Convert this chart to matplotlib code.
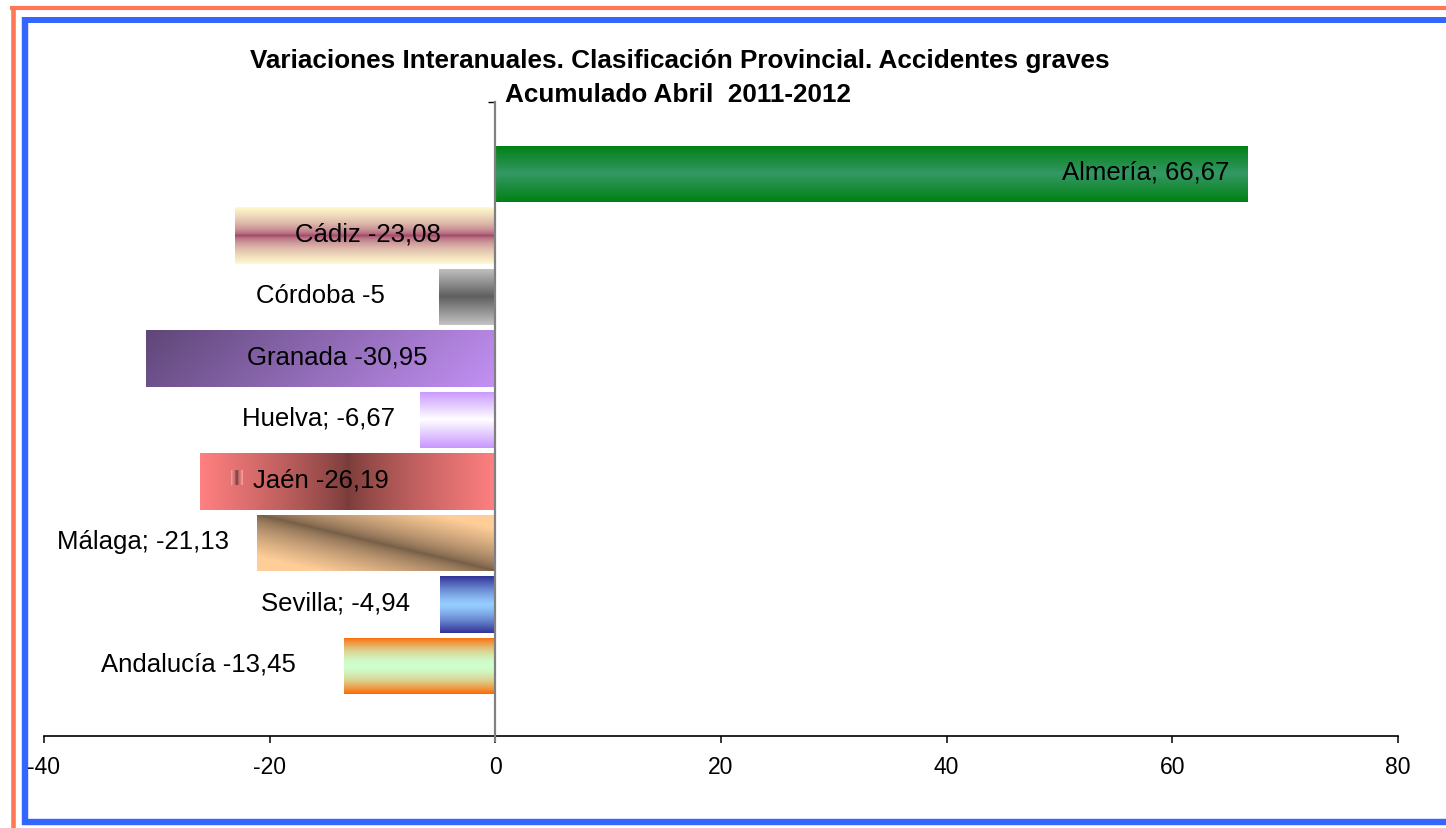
import numpy as np
import matplotlib
matplotlib.use("Agg")
import matplotlib.pyplot as plt
from matplotlib.lines import Line2D

plt.rcParams['font.family'] = ['Liberation Sans', 'DejaVu Sans']
plt.rcParams['axes.unicode_minus'] = False

# ---------------- data ----------------
provincias = ['Almería', 'Cádiz', 'Córdoba', 'Granada', 'Huelva',
              'Jaén', 'Málaga', 'Sevilla', 'Andalucía']
valores = [66.67, -23.08, -5, -30.95, -6.67, -26.19, -21.13, -4.94, -13.45]
etiquetas = ['Almería; 66,67', 'Cádiz -23,08', 'Córdoba -5', 'Granada -30,95',
             'Huelva; -6,67', 'Jaén -26,19', 'Málaga; -21,13', 'Sevilla; -4,94',
             'Andalucía -13,45']
xticks = [-40, -20, 0, 20, 40, 60, 80]
titulo1 = 'Variaciones Interanuales. Clasificación Provincial. Accidentes graves'
titulo2 = 'Acumulado Abril  2011-2012'

# ---------------- layout / style ----------------
label_x = [57.6, -11.3, -15.5, -14.0, -15.7, -15.5, -31.2, -14.2, -26.3]

W, H = 1446, 829
fig = plt.figure(figsize=(W / 100, H / 100), dpi=100)

def fx(px):
    return px / W

def fy(py):
    return 1 - py / H

ax_left, ax_right, ax_top, ax_bot = 44, 1398, 103, 737
ax = fig.add_axes([fx(ax_left), fy(ax_bot), fx(ax_right - ax_left), (ax_bot - ax_top) / H])

ypos = np.arange(len(provincias))
ylim_top, ylim_bot = -1.171, 9.138
bars = ax.barh(ypos, valores, height=0.92, facecolor='none', edgecolor='none')


def c(rgb):
    return np.array(rgb, dtype=float) / 255.0


def vgrad(edge, center, p=1.0, n=256):
    t = np.abs(np.linspace(-1, 1, n)) ** p
    col = c(center)[None, :] + (c(edge) - c(center))[None, :] * t[:, None]
    return col[:, None, :]


def hgrad(edge, center, p=1.0, n=256):
    t = np.abs(np.linspace(-1, 1, n)) ** p
    col = c(center)[None, :] + (c(edge) - c(center))[None, :] * t[:, None]
    return col[None, :, :]


def granada_grad(n=256):
    u = np.linspace(0, 1, n)[None, :]
    v = np.linspace(0, 1, 64)[:, None]
    t = np.clip(0.85 * u + 0.15 * v, 0, 1)
    dark, light = c((95, 70, 120)), c((195, 145, 245))
    return dark[None, None, :] + (light - dark)[None, None, :] * t[:, :, None]


def malaga_grad(n=256):
    u = np.linspace(0, 1, n)[None, :]
    v = np.linspace(0, 1, 64)[:, None]
    d = np.clip(np.abs(v - u) / 0.75, 0, 1) ** 0.7
    dark, light = c((115, 92, 70)), c((255, 205, 152))
    return dark[None, None, :] + (light - dark)[None, None, :] * d[:, :, None]


grads = [
    vgrad((0, 128, 20), (52, 152, 100), 1.0),        # Almería
    vgrad((255, 250, 205), (155, 55, 100), 0.5),     # Cádiz
    vgrad((195, 195, 195), (95, 95, 95), 1.0),       # Córdoba
    granada_grad(),                                  # Granada
    vgrad((200, 150, 255), (255, 255, 255), 1.0),    # Huelva
    hgrad((255, 128, 128), (120, 60, 58), 0.8),      # Jaén
    malaga_grad(),                                   # Málaga
    vgrad((50, 50, 150), (150, 205, 255), 1.3),      # Sevilla
    vgrad((255, 102, 0), (205, 255, 205), 1.8),      # Andalucía
]

for bar, g in zip(bars, grads):
    x0 = min(bar.get_x(), bar.get_x() + bar.get_width())
    x1 = max(bar.get_x(), bar.get_x() + bar.get_width())
    y0 = bar.get_y()
    y1 = bar.get_y() + bar.get_height()
    im = ax.imshow(g, extent=[x0, x1, y1, y0], origin='upper', aspect='auto',
                   interpolation='bilinear', zorder=1)
    im.set_clip_path(bar)

# small key mark next to the Jaén label
jb = bars[5]
mark = hgrad((255, 150, 150), (110, 50, 50), 0.6, n=16)
mx0 = -23.4
mx1 = -22.35
myc = jb.get_y() + jb.get_height() / 2 - 0.06
ax.imshow(mark, extent=[mx0, mx1, myc + 0.115, myc - 0.115], origin='upper',
          aspect='auto', interpolation='nearest', zorder=2)

for yy, xl, txt in zip(ypos, label_x, etiquetas):
    ax.text(xl, yy - 0.04, txt, ha='center', va='center', fontsize=18.5, color='black', zorder=4)

ax.set_xlim(-40, 80)
ax.set_ylim(ylim_bot, ylim_top)
ax.set_xticks(xticks)
ax.set_xticklabels([str(t) for t in xticks])
ax.tick_params(axis='x', direction='out', length=5, width=1.1, pad=9,
               labelsize=16.5, colors='black')

ax.spines['top'].set_visible(False)
ax.spines['right'].set_visible(False)
ax.spines['bottom'].set_linewidth(1.2)
ax.spines['bottom'].set_color('black')
ax.spines['left'].set_position(('data', 0))
ax.spines['left'].set_color('#808080')
ax.spines['left'].set_linewidth(1.6)
ax.spines['left'].set_bounds(ylim_bot + 5 / 61.5, ylim_top)
ax.spines['left'].set_zorder(3)
ax.set_yticks([ylim_top])
ax.set_yticklabels([''])
ax.tick_params(axis='y', direction='out', length=5, width=1.0, color='black')
ax.patch.set_alpha(0)

# title
fig.text(fx(680), fy(61), titulo1, ha='center', va='center', fontsize=18.8,
         fontweight='bold')
fig.text(fx(678), fy(95), titulo2, ha='center', va='center', fontsize=18.8,
         fontweight='bold')

# frame lines
orange = '#FF7755'
blue = '#3366FF'
tf = fig.transFigure
fig.add_artist(Line2D([fx(10), fx(W)], [fy(8.5), fy(8.5)], color=orange, lw=3.0, transform=tf,
                      solid_capstyle='butt'))
fig.add_artist(Line2D([fx(12.5), fx(12.5)], [fy(6.5), fy(H)], color=orange, lw=3.3, transform=tf,
                      solid_capstyle='butt'))
fig.add_artist(Line2D([fx(21.5), fx(W)], [fy(21), fy(21)], color=blue, lw=4.3, transform=tf,
                      solid_capstyle='butt'))
fig.add_artist(Line2D([fx(24.5), fx(24.5)], [fy(18), fy(826)], color=blue, lw=4.6, transform=tf,
                      solid_capstyle='butt'))
fig.add_artist(Line2D([fx(21.5), fx(W)], [fy(822.5), fy(822.5)], color=blue, lw=4.6, transform=tf,
                      solid_capstyle='butt'))

fig.savefig('out.png', dpi=100)
